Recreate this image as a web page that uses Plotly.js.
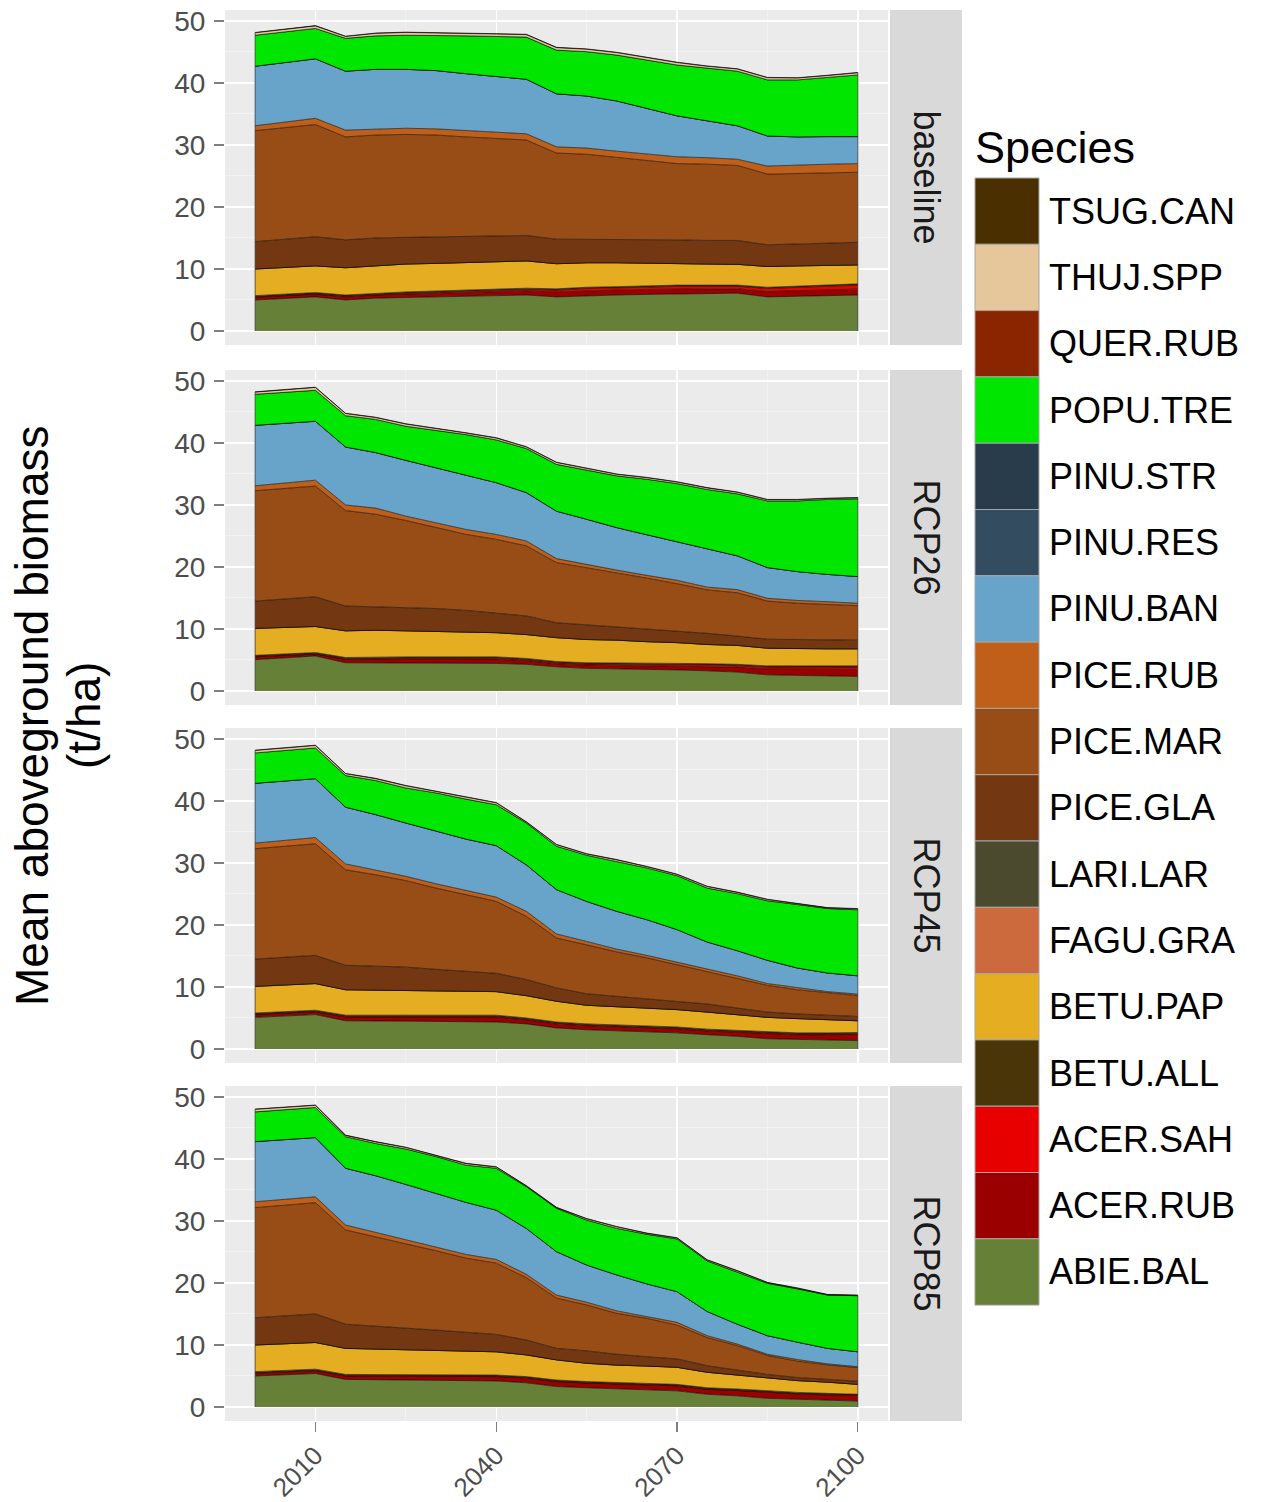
<!DOCTYPE html>
<html>
<head>
<meta charset="utf-8">
<script src="https://cdn.plot.ly/plotly-3.0.1.min.js"></script>
<style>
  html, body { margin: 0; padding: 0; background: #ffffff; }
  #chart { width: 1261px; height: 1502px; }
</style>
</head>
<body>
<div id="chart"></div>
<script>
// ---------------- DATA ----------------
const years = [2000, 2010, 2015, 2020, 2025, 2030, 2035, 2040, 2045, 2050,
               2055, 2060, 2065, 2070, 2075, 2080, 2085, 2090, 2095, 2100];

// stacking order, bottom to top
const species = ["ABIE.BAL", "ACER.RUB", "ACER.SAH", "BETU.ALL", "BETU.PAP", "FAGU.GRA",
                 "LARI.LAR", "PICE.GLA", "PICE.MAR", "PICE.RUB", "PINU.BAN", "PINU.RES",
                 "PINU.STR", "POPU.TRE", "QUER.RUB", "THUJ.SPP", "TSUG.CAN"];

const speciesColors = ["#668038", "#9b0000", "#e60000", "#4a3509", "#e5ad22", "#cc6a3d",
                       "#4c4a2e", "#733812", "#984c16", "#c05f1a", "#68a4ca", "#344c5f",
                       "#283c4b", "#00e600", "#8b2500", "#e5c79b", "#4a3000"];

const scenarios = ["baseline", "RCP26", "RCP45", "RCP85"];

const zeros = years.map(() => 0);

const baselineData = {
  "ABIE.BAL": [5.0, 5.5, 5.0, 5.3, 5.4, 5.5, 5.65, 5.7, 5.8, 5.5, 5.7, 5.8, 5.9, 5.95, 6.0, 6.1, 5.5, 5.65, 5.7, 5.8],
  "ACER.RUB": [0.45, 0.45, 0.5, 0.5, 0.55, 0.6, 0.55, 0.6, 0.65, 0.8, 0.8, 0.8, 0.8, 0.85, 0.8, 0.7, 0.85, 0.85, 0.9, 0.95],
  "ACER.SAH": [0.05, 0.05, 0.1, 0.1, 0.15, 0.15, 0.2, 0.2, 0.25, 0.3, 0.35, 0.35, 0.4, 0.4, 0.4, 0.4, 0.5, 0.55, 0.6, 0.65],
  "BETU.ALL": [0.2, 0.2, 0.2, 0.2, 0.2, 0.2, 0.2, 0.2, 0.2, 0.2, 0.2, 0.2, 0.2, 0.2, 0.2, 0.2, 0.2, 0.2, 0.2, 0.2],
  "BETU.PAP": [4.3, 4.3, 4.4, 4.4, 4.5, 4.45, 4.4, 4.4, 4.4, 4.05, 3.95, 3.85, 3.6, 3.5, 3.4, 3.35, 3.35, 3.25, 3.2, 3.05],
  "PICE.GLA": [4.4, 4.7, 4.5, 4.5, 4.3, 4.3, 4.3, 4.3, 4.1, 3.95, 3.8, 3.8, 3.8, 3.8, 3.8, 3.85, 3.5, 3.5, 3.5, 3.65],
  "PICE.MAR": [17.9, 18.1, 16.6, 16.6, 16.6, 16.4, 16.0, 15.7, 15.4, 13.9, 13.7, 13.2, 12.8, 12.3, 12.3, 12.1, 11.4, 11.4, 11.4, 11.3],
  "PICE.RUB": [0.8, 1.0, 1.1, 1.0, 1.0, 1.0, 1.0, 1.0, 1.0, 1.0, 1.0, 1.0, 1.0, 1.1, 1.05, 1.0, 1.3, 1.4, 1.4, 1.4],
  "PINU.BAN": [9.6, 9.6, 9.5, 9.6, 9.5, 9.4, 9.2, 8.9, 8.8, 8.55, 8.4, 8.1, 7.4, 6.6, 5.95, 5.4, 4.85, 4.5, 4.45, 4.35],
  "POPU.TRE": [5.0, 4.9, 5.3, 5.4, 5.5, 5.7, 6.1, 6.5, 6.8, 7.05, 7.15, 7.4, 7.8, 8.2, 8.5, 8.8, 9.05, 9.2, 9.55, 9.95],
  "THUJ.SPP": [0.4, 0.4, 0.3, 0.4, 0.45, 0.4, 0.4, 0.4, 0.4, 0.4, 0.4, 0.4, 0.4, 0.4, 0.3, 0.35, 0.35, 0.3, 0.3, 0.35],
  "TSUG.CAN": [0.05, 0.05, 0.05, 0.05, 0.05, 0.05, 0.05, 0.05, 0.05, 0.05, 0.05, 0.05, 0.05, 0.05, 0.05, 0.05, 0.05, 0.05, 0.05, 0.05]
};

const rcp26Data = {
  "ABIE.BAL": [5.05, 5.65, 4.55, 4.55, 4.55, 4.5, 4.45, 4.45, 4.3, 3.9, 3.65, 3.6, 3.5, 3.4, 3.25, 3.05, 2.6, 2.5, 2.45, 2.35],
  "ACER.RUB": [0.45, 0.3, 0.55, 0.65, 0.65, 0.7, 0.7, 0.7, 0.6, 0.5, 0.55, 0.55, 0.6, 0.65, 0.75, 0.8, 0.95, 1.05, 1.05, 1.15],
  "ACER.SAH": [0.05, 0.05, 0.1, 0.1, 0.1, 0.1, 0.15, 0.15, 0.15, 0.15, 0.15, 0.2, 0.2, 0.2, 0.2, 0.25, 0.3, 0.3, 0.35, 0.35],
  "BETU.ALL": [0.2, 0.2, 0.2, 0.2, 0.2, 0.2, 0.2, 0.2, 0.2, 0.2, 0.2, 0.2, 0.2, 0.2, 0.2, 0.2, 0.2, 0.2, 0.2, 0.2],
  "BETU.PAP": [4.35, 4.2, 4.3, 4.3, 4.2, 4.1, 3.95, 3.9, 3.85, 3.85, 3.75, 3.65, 3.45, 3.35, 3.1, 3.05, 2.85, 2.75, 2.75, 2.75],
  "PICE.GLA": [4.4, 4.8, 4.0, 3.75, 3.75, 3.7, 3.55, 3.2, 3.0, 2.4, 2.35, 2.1, 2.0, 1.9, 1.8, 1.5, 1.45, 1.5, 1.4, 1.4],
  "PICE.MAR": [17.8, 17.85, 15.4, 14.95, 14.05, 13.05, 12.25, 11.85, 11.3, 9.7, 9.25, 8.8, 8.25, 7.6, 7.0, 7.0, 6.15, 5.85, 5.8, 5.55],
  "PICE.RUB": [0.8, 0.95, 0.9, 1.0, 0.7, 0.8, 0.8, 0.8, 0.8, 0.65, 0.5, 0.4, 0.45, 0.55, 0.45, 0.5, 0.45, 0.45, 0.4, 0.4],
  "PINU.BAN": [9.75, 9.5, 9.35, 8.95, 9.0, 8.85, 8.75, 8.35, 7.8, 7.65, 7.3, 6.85, 6.55, 6.25, 6.2, 5.45, 4.95, 4.65, 4.4, 4.3],
  "POPU.TRE": [5.0, 5.0, 5.05, 5.35, 5.5, 6.05, 6.55, 6.9, 7.1, 7.55, 7.9, 8.35, 8.95, 9.35, 9.55, 10.0, 10.75, 11.4, 12.1, 12.55],
  "THUJ.SPP": [0.35, 0.45, 0.35, 0.3, 0.35, 0.3, 0.25, 0.3, 0.25, 0.3, 0.25, 0.25, 0.25, 0.25, 0.25, 0.25, 0.2, 0.2, 0.15, 0.15],
  "TSUG.CAN": [0.05, 0.05, 0.05, 0.05, 0.05, 0.05, 0.05, 0.05, 0.05, 0.05, 0.05, 0.05, 0.05, 0.05, 0.05, 0.05, 0.05, 0.05, 0.05, 0.05]
};

const rcp45Data = {
  "ABIE.BAL": [5.1, 5.55, 4.55, 4.55, 4.5, 4.45, 4.4, 4.35, 4.05, 3.4, 3.1, 2.95, 2.75, 2.6, 2.3, 2.05, 1.65, 1.55, 1.45, 1.35],
  "ACER.RUB": [0.45, 0.45, 0.6, 0.6, 0.65, 0.7, 0.75, 0.8, 0.65, 0.65, 0.65, 0.65, 0.7, 0.65, 0.6, 0.65, 0.8, 0.75, 0.85, 1.0],
  "ACER.SAH": [0.05, 0.05, 0.1, 0.1, 0.1, 0.1, 0.1, 0.1, 0.1, 0.1, 0.1, 0.1, 0.1, 0.1, 0.1, 0.1, 0.1, 0.1, 0.1, 0.1],
  "BETU.ALL": [0.2, 0.2, 0.2, 0.2, 0.2, 0.2, 0.2, 0.2, 0.2, 0.2, 0.2, 0.2, 0.2, 0.2, 0.2, 0.2, 0.2, 0.2, 0.2, 0.2],
  "BETU.PAP": [4.3, 4.3, 4.1, 4.05, 4.0, 3.95, 3.9, 3.8, 3.6, 3.35, 3.0, 2.9, 2.85, 2.8, 2.75, 2.55, 2.35, 2.3, 2.1, 1.9],
  "PICE.GLA": [4.4, 4.55, 3.95, 3.9, 3.75, 3.45, 3.15, 2.95, 2.6, 2.15, 1.85, 1.7, 1.5, 1.35, 1.3, 1.05, 0.85, 0.75, 0.75, 0.7],
  "PICE.MAR": [17.8, 18.0, 15.4, 14.7, 13.95, 13.1, 12.4, 11.6, 10.2, 8.05, 7.9, 7.15, 6.6, 5.9, 5.25, 4.85, 4.3, 3.9, 3.6, 3.35],
  "PICE.RUB": [0.9, 1.0, 0.95, 0.8, 0.7, 0.7, 0.7, 0.7, 0.8, 0.65, 0.55, 0.45, 0.4, 0.4, 0.35, 0.35, 0.3, 0.3, 0.2, 0.25],
  "PINU.BAN": [9.65, 9.5, 9.15, 8.9, 8.6, 8.45, 8.25, 8.3, 7.5, 7.15, 6.45, 6.1, 5.75, 5.25, 4.4, 4.05, 3.75, 3.2, 3.0, 2.95],
  "POPU.TRE": [4.9, 4.95, 5.1, 5.5, 5.65, 6.2, 6.45, 6.6, 6.75, 7.0, 7.45, 8.05, 8.35, 8.7, 8.7, 9.2, 9.6, 10.25, 10.4, 10.65],
  "THUJ.SPP": [0.4, 0.4, 0.3, 0.3, 0.35, 0.25, 0.3, 0.3, 0.15, 0.25, 0.2, 0.25, 0.2, 0.2, 0.25, 0.2, 0.2, 0.15, 0.1, 0.15],
  "TSUG.CAN": [0.05, 0.05, 0.05, 0.05, 0.05, 0.05, 0.05, 0.05, 0.05, 0.05, 0.05, 0.05, 0.05, 0.05, 0.05, 0.05, 0.05, 0.05, 0.05, 0.05]
};

const rcp85Data = {
  "ABIE.BAL": [5.0, 5.4, 4.45, 4.4, 4.35, 4.3, 4.25, 4.2, 3.9, 3.3, 3.1, 2.9, 2.75, 2.6, 2.05, 1.8, 1.4, 1.25, 1.1, 0.95],
  "ACER.RUB": [0.45, 0.45, 0.55, 0.6, 0.65, 0.7, 0.75, 0.7, 0.75, 0.8, 0.75, 0.75, 0.8, 0.8, 0.8, 0.85, 0.95, 0.85, 0.85, 1.0],
  "ACER.SAH": [0.05, 0.05, 0.05, 0.05, 0.05, 0.05, 0.05, 0.05, 0.05, 0.05, 0.05, 0.05, 0.05, 0.05, 0.05, 0.05, 0.05, 0.05, 0.05, 0.05],
  "BETU.ALL": [0.2, 0.2, 0.2, 0.2, 0.2, 0.2, 0.2, 0.2, 0.2, 0.2, 0.2, 0.2, 0.2, 0.2, 0.2, 0.2, 0.2, 0.2, 0.2, 0.05],
  "BETU.PAP": [4.3, 4.3, 4.2, 4.1, 4.05, 3.9, 3.8, 3.75, 3.5, 3.25, 2.95, 2.85, 2.8, 2.75, 2.5, 2.25, 2.0, 1.9, 1.8, 1.6],
  "PICE.GLA": [4.4, 4.6, 3.9, 3.7, 3.5, 3.25, 3.0, 2.8, 2.4, 1.85, 2.0, 1.75, 1.5, 1.35, 1.05, 0.8, 0.65, 0.5, 0.4, 0.5],
  "PICE.MAR": [17.75, 17.95, 15.2, 14.4, 13.6, 12.8, 11.95, 11.5, 10.05, 8.1, 7.4, 6.6, 6.2, 5.45, 4.55, 3.95, 3.05, 2.65, 2.4, 2.2],
  "PICE.RUB": [0.95, 0.95, 0.8, 0.7, 0.65, 0.65, 0.6, 0.6, 0.55, 0.5, 0.45, 0.4, 0.3, 0.45, 0.3, 0.25, 0.2, 0.25, 0.15, 0.15],
  "PINU.BAN": [9.7, 9.55, 9.15, 9.15, 8.85, 8.6, 8.4, 7.95, 7.4, 7.0, 6.0, 5.8, 5.25, 4.95, 3.9, 3.2, 3.0, 2.8, 2.5, 2.4],
  "POPU.TRE": [4.8, 4.85, 5.1, 5.2, 5.7, 5.95, 6.0, 6.75, 6.75, 7.0, 7.25, 7.5, 8.0, 8.5, 8.15, 8.45, 8.45, 8.6, 8.6, 9.05],
  "THUJ.SPP": [0.4, 0.35, 0.2, 0.25, 0.25, 0.2, 0.25, 0.2, 0.1, 0.1, 0.2, 0.25, 0.15, 0.15, 0.15, 0.15, 0.1, 0.1, 0.05, 0.05],
  "TSUG.CAN": [0.05, 0.05, 0.05, 0.05, 0.05, 0.05, 0.05, 0.05, 0.05, 0.05, 0.05, 0.05, 0.05, 0.05, 0.05, 0.05, 0.05, 0.05, 0.05, 0.05]
};

const scenarioData = [baselineData, rcp26Data, rcp45Data, rcp85Data];

const yTicks = [0, 10, 20, 30, 40, 50];
const xTicks = [2010, 2040, 2070, 2100];
const xTickLabels = ["2010", "2040", "2070", "2100"];
const yTitleLines = ["Mean aboveground biomass", "(t/ha)"];
const legendTitle = "Species";

// ---------------- LAYOUT HELPERS (pixel geometry) ----------------
const FONT = "Liberation Sans, Arial, Helvetica, sans-serif";
const W = 1261, H = 1502;
const L = 225, R = 888, T = 10, B = 1421;
const px2x = px => (px - L) / (R - L);
const py2y = py => (B - py) / (B - T);
const panels = [[10, 345], [370, 705], [728, 1063], [1086, 1421]];

const traces = [];
scenarios.forEach((sc, si) => {
  const data = scenarioData[si];
  const ax = si === 0 ? "" : String(si + 1);
  species.forEach((sp, k) => {
    traces.push({
      type: "scatter",
      mode: "lines",
      x: years,
      y: data[sp] || zeros,
      name: sp,
      xaxis: "x" + ax,
      yaxis: "y" + ax,
      stackgroup: "s" + si,
      fillcolor: speciesColors[k],
      line: { color: "#000000", width: 0.6, shape: "linear" },
      showlegend: false,
      hoverinfo: "skip"
    });
  });
  // polygon side edges (outline at first and last year, from 0 up to the stack total)
  const totals = years.map((_, t) => species.reduce((s, sp) => s + ((data[sp] || zeros)[t]), 0));
  const last = years.length - 1;
  [0, last].forEach(t => {
    traces.push({
      type: "scatter", mode: "lines",
      x: [years[t], years[t]], y: [0, totals[t]],
      xaxis: "x" + ax, yaxis: "y" + ax,
      line: { color: "#3a3a3a", width: 0.8 },
      showlegend: false, hoverinfo: "skip"
    });
  });
});

const layout = {
  width: W, height: H,
  margin: { l: L, r: W - R, t: T, b: H - B, pad: 0 },
  paper_bgcolor: "#ffffff",
  plot_bgcolor: "#ebebeb",
  font: { family: FONT, color: "#4d4d4d" },
  showlegend: false,
  shapes: [],
  annotations: []
};

panels.forEach((p, i) => {
  const ax = i === 0 ? "" : String(i + 1);
  const dom = [py2y(p[1]), py2y(p[0])];
  const isBottom = i === panels.length - 1;
  layout["xaxis" + ax] = {
    domain: [0, 1],
    anchor: "y" + ax,
    range: [1995, 2105],
    tickvals: xTicks,
    ticktext: xTickLabels,
    showticklabels: isBottom,
    ticks: isBottom ? "outside" : "",
    ticklen: 10, tickwidth: 1.2, tickcolor: "#7f7f7f",
    tickangle: -45,
    ticklabelstandoff: -2,
    tickfont: { family: FONT, size: 26, color: "#4d4d4d" },
    showgrid: true, gridcolor: "#ffffff", gridwidth: 1.4,
    minor: { tickvals: [1995, 2025, 2055, 2085], showgrid: true, gridcolor: "#f4f4f4", gridwidth: 0.8, ticks: "" },
    zeroline: false, showline: false, fixedrange: true
  };
  layout["yaxis" + ax] = {
    domain: dom,
    anchor: "x" + ax,
    range: [-2.26, 51.77],
    tickvals: yTicks,
    ticks: "outside",
    ticklen: 10, tickwidth: 1.2, tickcolor: "#7f7f7f",
    ticklabelstandoff: 3,
    tickfont: { family: FONT, size: 28, color: "#4d4d4d" },
    showgrid: true, gridcolor: "#ffffff", gridwidth: 1.4,
    minor: { dtick: 5, showgrid: true, gridcolor: "#f4f4f4", gridwidth: 0.8, ticks: "" },
    zeroline: false, showline: false, fixedrange: true
  };
  // strip
  layout.shapes.push({
    type: "rect", xref: "paper", yref: "paper",
    x0: px2x(890), x1: px2x(962), y0: dom[0], y1: dom[1],
    fillcolor: "#d9d9d9", line: { width: 0 }, layer: "below"
  });
  layout.annotations.push({
    xref: "paper", yref: "paper",
    x: px2x(926), y: (dom[0] + dom[1]) / 2,
    text: scenarios[i], showarrow: false, textangle: 90,
    xanchor: "center", yanchor: "middle",
    font: { family: FONT, size: 36, color: "#1a1a1a" }
  });
});

// y axis title (two lines)
layout.annotations.push({
  xref: "paper", yref: "paper", x: px2x(32), y: py2y(716),
  text: yTitleLines[0], showarrow: false, textangle: -90,
  xanchor: "center", yanchor: "middle",
  font: { family: FONT, size: 46, color: "#000000" }
});
layout.annotations.push({
  xref: "paper", yref: "paper", x: px2x(84), y: py2y(716),
  text: yTitleLines[1], showarrow: false, textangle: -90,
  xanchor: "center", yanchor: "middle",
  font: { family: FONT, size: 46, color: "#000000" }
});

// legend (top to bottom = reverse stacking order)
layout.annotations.push({
  xref: "paper", yref: "paper", x: px2x(973), y: py2y(147),
  text: legendTitle, showarrow: false,
  xanchor: "left", yanchor: "middle",
  font: { family: FONT, size: 45, color: "#000000" }
});
const keyTop = 178, keyH = 66.3;
const legendOrder = species.slice().reverse();
const legendColors = speciesColors.slice().reverse();
legendOrder.forEach((sp, j) => {
  const y0 = keyTop + j * keyH, y1 = y0 + keyH;
  layout.shapes.push({
    type: "rect", xref: "paper", yref: "paper",
    x0: px2x(975), x1: px2x(1039), y0: py2y(y1), y1: py2y(y0),
    fillcolor: legendColors[j], line: { color: "#a6a6a6", width: 1 }
  });
  layout.annotations.push({
    xref: "paper", yref: "paper", x: px2x(1047), y: py2y((y0 + y1) / 2),
    text: sp, showarrow: false, xanchor: "left", yanchor: "middle",
    font: { family: FONT, size: 36, color: "#000000" }
  });
});

Plotly.newPlot("chart", traces, layout, { staticPlot: true, displayModeBar: false });
</script>
</body>
</html>
